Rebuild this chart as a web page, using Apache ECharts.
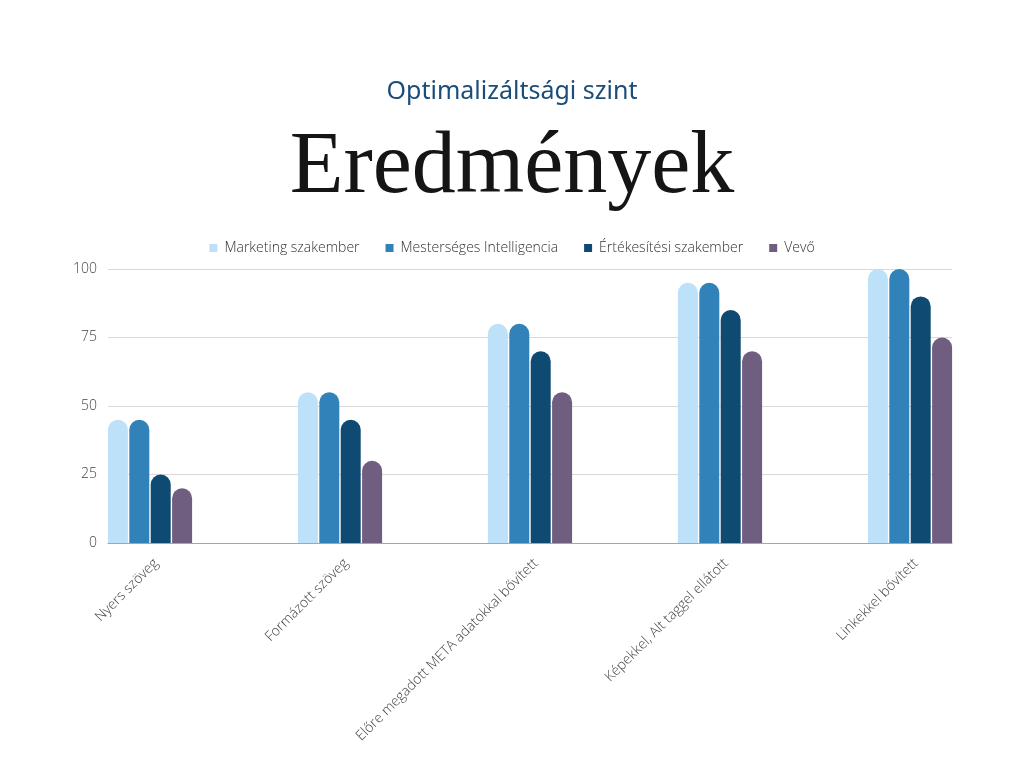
<!DOCTYPE html>
<html>
<head>
<meta charset="utf-8">
<script src="https://cdn.jsdelivr.net/npm/echarts@6/dist/echarts.min.js"></script>
<style>
  html, body { margin: 0; padding: 0; background: #fff; }
  #chart { width: 1024px; height: 768px; }
</style>
</head>
<body>
<div id="chart"></div>
<script>
// adatok
const categories = ['Nyers szöveg', 'Formázott szöveg', 'Előre megadott META adatokkal bővített', 'Képekkel, Alt taggel ellátott', 'Linkekkel bővített'];
const marketing = [45, 55, 80, 95, 100];
const mi = [45, 55, 80, 95, 100];
const ertekesites = [25, 45, 70, 85, 90];
const vevo = [20, 30, 55, 70, 75];
const yTicks = [0, 25, 50, 75, 100];

const seriesNames = ['Marketing szakember', 'Mesterséges Intelligencia', 'Értékesítési szakember', 'Vevő'];
const colors = ['#bde1f8', '#3282ba', '#0f4a73', '#6f5e7f'];

function makeBar(name, data, color) {
	return {
		name: name,
		type: 'bar',
		xAxisIndex: 1,
		yAxisIndex: 1,
		data: data,
		barWidth: 20,
		barGap: '7%',
		itemStyle: { color: color, borderRadius: [10, 10, 0, 0] }
	};
}

let myChart = echarts.init(document.getElementById('chart'));

let option = {
	backgroundColor: '#ffffff',
	animation: false,
	color: colors,
	title: [
		{
			text: 'Optimalizáltsági szint',
			left: 'center',
			top: 74,
			textStyle: { fontFamily: 'Noto Sans', fontSize: 25, fontWeight: 'normal', color: '#1b4d7b' }
		},
		{
			text: 'Eredmények',
			left: 'center',
			top: 120,
			textStyle: { fontFamily: 'Liberation Serif', fontSize: 88, fontWeight: 'normal', color: '#151515' }
		}
	],
	legend: {
		top: 236,
		left: 'center',
		itemWidth: 8,
		itemHeight: 8,
		itemGap: 26,
		icon: 'rect',
		data: seriesNames,
		textStyle: { fontFamily: 'Open Sans', fontWeight: 300, fontSize: 14, color: '#333333', padding: [0, 0, 0, 2] }
	},
	grid: [
		{ left: 108, right: 72, top: 269, bottom: 225, containLabel: false },
		{ left: 55, width: 950, top: 269, bottom: 225, containLabel: false },
		{ left: 61, width: 950, top: 269, bottom: 225, containLabel: false }
	],
	xAxis: [
		{
			type: 'category',
			gridIndex: 0,
			data: categories,
			axisLine: { show: true, lineStyle: { color: '#a6a6a6', width: 1 } },
			axisTick: { show: false },
			axisLabel: { show: false },
			splitLine: { show: false }
		},
		{
			type: 'category',
			gridIndex: 1,
			data: categories,
			axisLine: { show: false },
			axisTick: { show: false },
			axisLabel: { show: false }
		},
		{
			// csak a feliratokhoz
			type: 'category',
			gridIndex: 2,
			data: categories,
			axisLine: { show: false },
			axisTick: { show: false },
			axisLabel: {
				rotate: 45,
				margin: 18,
				interval: 0,
				fontFamily: 'Open Sans',
				fontWeight: 300,
				fontSize: 14,
				color: '#444444'
			}
		}
	],
	yAxis: [
		{
			type: 'value',
			gridIndex: 0,
			min: yTicks[0],
			max: yTicks[yTicks.length - 1],
			interval: 25,
			axisLine: { show: false },
			axisTick: { show: false },
			axisLabel: { margin: 11, fontFamily: 'Open Sans', fontWeight: 300, fontSize: 14, color: '#444444' },
			splitLine: { lineStyle: { color: '#d9d9d9', width: 1 } }
		},
		{
			type: 'value',
			gridIndex: 1,
			min: yTicks[0],
			max: yTicks[yTicks.length - 1],
			interval: 25,
			show: false,
			splitLine: { show: false }
		},
		{
			type: 'value',
			gridIndex: 2,
			min: yTicks[0],
			max: yTicks[yTicks.length - 1],
			interval: 25,
			show: false,
			splitLine: { show: false }
		}
	],
	series: [
		makeBar(seriesNames[0], marketing, colors[0]),
		makeBar(seriesNames[1], mi, colors[1]),
		makeBar(seriesNames[2], ertekesites, colors[2]),
		makeBar(seriesNames[3], vevo, colors[3])
	]
};

myChart.setOption(option);
</script>
</body>
</html>
